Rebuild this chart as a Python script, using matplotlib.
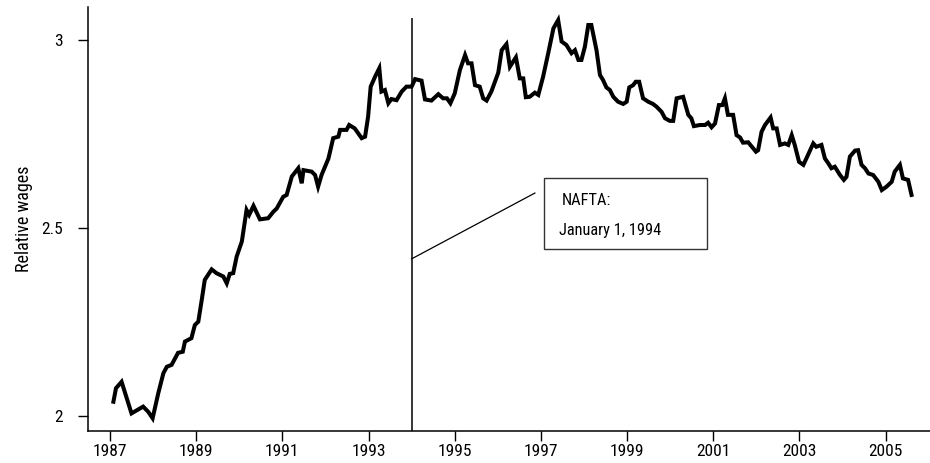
import matplotlib
matplotlib.use("Agg")
import matplotlib.pyplot as plt
from matplotlib import font_manager
from matplotlib.patches import Rectangle

# the original uses a condensed Helvetica; take a narrow face if one is installed
installed = {f.name for f in font_manager.fontManager.ttflist}
narrow = None
for name in ['Liberation Sans Narrow', 'Arial Narrow', 'Nimbus Sans Narrow', 'Roboto Condensed',
             'Open Sans Condensed', 'DejaVu Sans Condensed']:
    if name in installed:
        narrow = name
        break
if narrow:
    plt.rcParams['font.family'] = [narrow, 'DejaVu Sans']
    tick_fs, label_fs, note_fs = 12.5, 13, 11.8
else:
    plt.rcParams['font.family'] = ['Liberation Sans', 'DejaVu Sans']
    tick_fs, label_fs, note_fs = 10.5, 10.5, 10.5

# relative wages (year, value)
years = [1987.08, 1987.14, 1987.27, 1987.50, 1987.77, 1987.89, 1987.99, 1988.12, 1988.24, 1988.32,
         1988.43, 1988.58, 1988.69, 1988.74, 1988.89, 1988.97, 1989.05, 1989.13, 1989.20, 1989.36,
         1989.47, 1989.63, 1989.71, 1989.78, 1989.86, 1989.94, 1990.06, 1990.17, 1990.23, 1990.33,
         1990.48, 1990.67, 1990.79, 1990.87, 1991.02, 1991.10, 1991.22, 1991.37, 1991.45, 1991.49,
         1991.68, 1991.76, 1991.83, 1991.91, 1992.07, 1992.18, 1992.30, 1992.34, 1992.49, 1992.55,
         1992.68, 1992.84, 1992.92, 1992.99, 1993.05, 1993.15, 1993.25, 1993.30, 1993.38, 1993.46,
         1993.53, 1993.65, 1993.77, 1993.88, 1994.00, 1994.08, 1994.23, 1994.31, 1994.46, 1994.62,
         1994.73, 1994.82, 1994.90, 1995.00, 1995.12, 1995.24, 1995.31, 1995.39, 1995.47, 1995.58,
         1995.66, 1995.74, 1995.85, 1996.01, 1996.09, 1996.20, 1996.28, 1996.42, 1996.51, 1996.59,
         1996.65, 1996.74, 1996.86, 1996.94, 1997.05, 1997.17, 1997.29, 1997.40, 1997.48, 1997.59,
         1997.71, 1997.79, 1997.87, 1997.94, 1998.02, 1998.10, 1998.17, 1998.29, 1998.37, 1998.44,
         1998.52, 1998.60, 1998.68, 1998.79, 1998.91, 1998.99, 1999.05, 1999.14, 1999.20, 1999.28,
         1999.37, 1999.49, 1999.60, 1999.68, 1999.80, 1999.88, 1999.99, 2000.07, 2000.15, 2000.30,
         2000.42, 2000.49, 2000.55, 2000.69, 2000.81, 2000.88, 2000.96, 2001.04, 2001.13, 2001.21,
         2001.27, 2001.34, 2001.46, 2001.54, 2001.62, 2001.69, 2001.81, 2001.99, 2002.04, 2002.12,
         2002.20, 2002.33, 2002.39, 2002.47, 2002.55, 2002.66, 2002.74, 2002.82, 2002.89, 2002.99,
         2003.09, 2003.16, 2003.32, 2003.39, 2003.51, 2003.59, 2003.67, 2003.74, 2003.82, 2003.94,
         2004.03, 2004.09, 2004.17, 2004.29, 2004.36, 2004.44, 2004.52, 2004.60, 2004.71, 2004.83,
         2004.91, 2005.02, 2005.14, 2005.21, 2005.33, 2005.40, 2005.52, 2005.60]
wages = [2.038, 2.074, 2.091, 2.007, 2.025, 2.011, 1.994, 2.060, 2.114, 2.131,
         2.136, 2.168, 2.171, 2.198, 2.207, 2.242, 2.251, 2.309, 2.362, 2.390,
         2.380, 2.371, 2.353, 2.378, 2.380, 2.424, 2.464, 2.548, 2.535, 2.559,
         2.523, 2.526, 2.543, 2.552, 2.583, 2.588, 2.637, 2.659, 2.619, 2.654,
         2.650, 2.641, 2.610, 2.641, 2.685, 2.739, 2.743, 2.761, 2.761, 2.774,
         2.765, 2.739, 2.743, 2.796, 2.876, 2.902, 2.925, 2.863, 2.867, 2.832,
         2.843, 2.840, 2.863, 2.876, 2.876, 2.896, 2.892, 2.842, 2.839, 2.856,
         2.845, 2.845, 2.832, 2.858, 2.920, 2.960, 2.938, 2.938, 2.880, 2.876,
         2.845, 2.839, 2.863, 2.913, 2.973, 2.989, 2.929, 2.954, 2.898, 2.898,
         2.848, 2.849, 2.860, 2.854, 2.902, 2.965, 3.031, 3.053, 2.996, 2.987,
         2.965, 2.973, 2.947, 2.947, 2.982, 3.040, 3.040, 2.973, 2.907, 2.894,
         2.874, 2.867, 2.849, 2.836, 2.830, 2.836, 2.874, 2.880, 2.889, 2.889,
         2.845, 2.836, 2.830, 2.823, 2.809, 2.792, 2.785, 2.785, 2.845, 2.849,
         2.801, 2.792, 2.771, 2.774, 2.774, 2.780, 2.768, 2.778, 2.827, 2.827,
         2.845, 2.801, 2.801, 2.747, 2.741, 2.727, 2.728, 2.703, 2.707, 2.756,
         2.774, 2.794, 2.765, 2.765, 2.721, 2.725, 2.721, 2.747, 2.721, 2.676,
         2.668, 2.685, 2.725, 2.716, 2.721, 2.685, 2.672, 2.659, 2.663, 2.641,
         2.628, 2.636, 2.690, 2.706, 2.707, 2.668, 2.659, 2.645, 2.641, 2.623,
         2.601, 2.610, 2.623, 2.650, 2.668, 2.632, 2.628, 2.588]

xticks = [1987, 1989, 1991, 1993, 1995, 1997, 1999, 2001, 2003, 2005]
yticks = [2, 2.5, 3]
ytick_labels = ['2', '2.5', '3']
nafta_year = 1994

fig = plt.figure(figsize=(9.3, 4.63), dpi=100)
ax = fig.add_axes([0.0946, 0.069, 0.905, 0.916])

ax.plot(years, wages, color='black', lw=2.9, solid_joinstyle='miter')

# NAFTA marker and callout
ax.vlines(nafta_year, 1.96, 3.058, color='black', lw=1.1)
ax.plot([nafta_year, 1996.86], [2.418, 2.593], color='black', lw=0.9)
ax.add_patch(Rectangle((1997.07, 2.444), 3.78, 0.189, facecolor='white',
                       edgecolor='#333333', lw=1.0))
ax.text(1997.48, 2.574, 'NAFTA:', fontsize=note_fs, va='center', ha='left')
ax.text(1997.42, 2.494, 'January 1, 1994', fontsize=note_fs, va='center', ha='left')

ax.set_xlim(1986.49, 2006.02)
ax.set_ylim(1.96, 3.088)
ax.set_xticks(xticks)
ax.set_xticklabels([str(y) for y in xticks])
ax.set_yticks(yticks)
ax.set_yticklabels(ytick_labels)
ax.set_ylabel('Relative wages', fontsize=label_fs, labelpad=6)

for s in ['top', 'right']:
    ax.spines[s].set_visible(False)
ax.spines['left'].set_linewidth(1.1)
ax.spines['bottom'].set_linewidth(1.1)
ax.tick_params(axis='y', direction='out', length=7, width=1.0, pad=11, labelsize=tick_fs)
ax.tick_params(axis='x', direction='out', length=7, width=1.0, pad=2.5, labelsize=tick_fs)

fig.savefig('out.png', dpi=100)
